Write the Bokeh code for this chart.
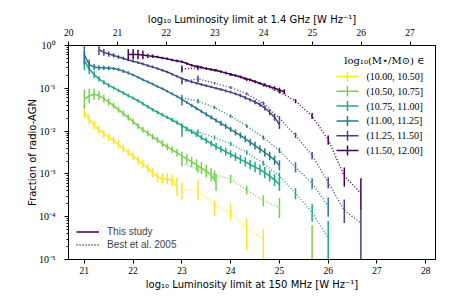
import numpy as np
from bokeh.plotting import figure
from bokeh.models import (Range1d, LinearAxis, FixedTicker, LogTicker, CustomJSTickFormatter,
                          Label, BoxAnnotation, Legend, LegendItem)
from bokeh.embed import file_html
from bokeh.resources import INLINE

# ---------------- data (log10 luminosity at 150 MHz, log10 fraction, errors in dex) -------------
mass_bins = ["(10.00, 10.50]", "(10.50, 10.75]", "(10.75, 11.00]",
             "(11.00, 11.25]", "(11.25, 11.50]", "(11.50, 12.00]"]
colors = ["#fde725", "#7ad151", "#22a884", "#2a788e", "#414487", "#440154"]

# This study (solid)
x_m1 = [21.0, 21.1, 21.2, 21.3, 21.4, 21.5, 21.6, 21.7, 21.8, 21.9, 22.0, 22.1, 22.2, 22.3, 22.4,
        22.5, 22.6, 22.7, 22.8, 22.9]
y_m1 = [-1.55, -1.72, -1.86, -1.97, -2.06, -2.14, -2.22, -2.31, -2.41, -2.50, -2.59, -2.68, -2.77,
        -2.87, -2.97, -3.07, -3.12, -3.12, -3.15, -3.30]
e_m1 = [0.15, 0.12, 0.11, 0.10, 0.10, 0.09, 0.09, 0.09, 0.09, 0.09, 0.09, 0.10, 0.10, 0.10, 0.11,
        0.12, 0.13, 0.13, 0.14, 0.22]

x_m2 = [21.0, 21.1, 21.2, 21.3, 21.4, 21.5, 21.6, 21.7, 21.8, 21.9, 22.0, 22.1, 22.2, 22.3, 22.4,
        22.5, 22.6, 22.7, 22.8, 22.9, 23.0, 23.1, 23.2, 23.3, 23.4, 23.5, 23.6, 23.7]
y_m2 = [-1.25, -1.18, -1.14, -1.17, -1.24, -1.32, -1.41, -1.50, -1.59, -1.68, -1.78, -1.88, -1.97,
        -2.05, -2.13, -2.21, -2.29, -2.37, -2.44, -2.51, -2.58, -2.65, -2.72, -2.79, -2.86, -2.93,
        -3.02, -3.20]
e_m2 = [0.22, 0.17, 0.13, 0.11, 0.09, 0.08, 0.07, 0.07, 0.07, 0.07, 0.07, 0.07, 0.07, 0.07, 0.07,
        0.07, 0.08, 0.08, 0.08, 0.09, 0.10, 0.11, 0.12, 0.13, 0.14, 0.15, 0.16, 0.20]

x_m3 = [21.0, 21.1, 21.2, 21.3, 21.4, 21.5, 21.6, 21.7, 21.8, 21.9, 22.0, 22.1, 22.2, 22.3, 22.4,
        22.5, 22.6, 22.7, 22.8, 22.9, 23.0, 23.1, 23.2, 23.3, 23.4, 23.5, 23.6, 23.7, 23.8, 23.9,
        24.0, 24.1, 24.2, 24.3, 24.4, 24.5, 24.6, 24.7, 24.8, 24.9, 25.0]
y_m3 = [-0.35, -0.55, -0.68, -0.78, -0.86, -0.93, -0.99, -1.05, -1.11, -1.17, -1.23, -1.29, -1.36,
        -1.43, -1.50, -1.56, -1.62, -1.68, -1.74, -1.80, -1.87, -1.94, -2.01, -2.08, -2.15, -2.22,
        -2.29, -2.36, -2.42, -2.48, -2.54, -2.60, -2.66, -2.72, -2.78, -2.84, -2.90, -2.97, -3.05,
        -3.14, -3.25]
e_m3 = [0.22, 0.12, 0.08, 0.06, 0.05, 0.05, 0.04, 0.04, 0.04, 0.04, 0.04, 0.04, 0.04, 0.04, 0.04,
        0.04, 0.04, 0.04, 0.05, 0.05, 0.05, 0.05, 0.06, 0.06, 0.06, 0.07, 0.07, 0.08, 0.08, 0.09,
        0.09, 0.10, 0.10, 0.11, 0.11, 0.12, 0.12, 0.13, 0.13, 0.14, 0.15]

x_m4 = [21.0, 21.1, 21.2, 21.3, 21.4, 21.5, 21.6, 21.7, 21.8, 21.9, 22.0, 22.1, 22.2, 22.3, 22.4,
        22.5, 22.6, 22.7, 22.8, 22.9, 23.0, 23.1, 23.2, 23.3, 23.4, 23.5, 23.6, 23.7, 23.8, 23.9,
        24.0, 24.1, 24.2, 24.3, 24.4, 24.5, 24.6, 24.7, 24.8, 24.9, 25.0]
y_m4 = [-0.22, -0.45, -0.50, -0.52, -0.52, -0.53, -0.54, -0.56, -0.60, -0.64, -0.69, -0.74, -0.80,
        -0.85, -0.90, -0.96, -1.01, -1.07, -1.13, -1.19, -1.26, -1.33, -1.40, -1.47, -1.54, -1.61,
        -1.68, -1.75, -1.82, -1.89, -1.96, -2.03, -2.10, -2.18, -2.26, -2.34, -2.42, -2.50, -2.58,
        -2.68, -2.80]
e_m4 = [0.22, 0.12, 0.07, 0.06, 0.05, 0.05, 0.04, 0.04, 0.04, 0.04, 0.03, 0.03, 0.03, 0.03, 0.03,
        0.03, 0.03, 0.03, 0.03, 0.03, 0.03, 0.03, 0.04, 0.04, 0.04, 0.05, 0.05, 0.05, 0.06, 0.06,
        0.06, 0.07, 0.07, 0.08, 0.08, 0.09, 0.09, 0.10, 0.10, 0.11, 0.12]

x_m5 = [21.3, 21.4, 21.5, 21.6, 21.7, 21.8, 21.9, 22.0, 22.1, 22.2, 22.3, 22.4, 22.5, 22.6, 22.7,
        22.8, 22.9, 23.0, 23.1, 23.2, 23.3, 23.4, 23.5, 23.6, 23.7, 23.8, 23.9, 24.0, 24.1, 24.2,
        24.3, 24.4, 24.5, 24.6, 24.7, 24.8, 24.9, 25.0]
y_m5 = [-0.10, -0.16, -0.20, -0.23, -0.27, -0.30, -0.34, -0.37, -0.40, -0.43, -0.47, -0.50, -0.54,
        -0.58, -0.62, -0.67, -0.72, -0.77, -0.81, -0.85, -0.88, -0.91, -0.94, -0.97, -1.00, -1.03,
        -1.06, -1.09, -1.13, -1.17, -1.22, -1.27, -1.32, -1.38, -1.46, -1.56, -1.68, -1.85]
e_m5 = [0.12, 0.08, 0.06, 0.05, 0.04, 0.04, 0.03, 0.03, 0.03, 0.03, 0.03, 0.03, 0.03, 0.03, 0.03,
        0.03, 0.03, 0.03, 0.03, 0.03, 0.03, 0.03, 0.03, 0.03, 0.03, 0.03, 0.03, 0.03, 0.03, 0.04,
        0.04, 0.04, 0.05, 0.05, 0.06, 0.07, 0.08, 0.10]

x_m6 = [21.9, 22.0, 22.1, 22.2, 22.3, 22.4, 22.5, 22.6, 22.7, 22.8, 22.9, 23.0, 23.1, 23.2, 23.3,
        23.4, 23.5, 23.6, 23.7, 23.8, 23.9, 24.0, 24.1, 24.2, 24.3, 24.4, 24.5, 24.6, 24.7, 24.8,
        24.9, 25.0, 25.1]
y_m6 = [-0.21, -0.21, -0.21, -0.22, -0.24, -0.25, -0.27, -0.29, -0.31, -0.34, -0.36, -0.38, -0.42,
        -0.46, -0.49, -0.51, -0.54, -0.56, -0.58, -0.61, -0.64, -0.67, -0.70, -0.73, -0.77, -0.80,
        -0.84, -0.88, -0.92, -0.96, -1.00, -1.04, -1.08]
e_m6 = [0.12, 0.12, 0.11, 0.10, 0.05, 0.04, 0.03, 0.03, 0.03, 0.03, 0.03, 0.03, 0.03, 0.03, 0.03,
        0.03, 0.03, 0.03, 0.03, 0.03, 0.03, 0.03, 0.03, 0.03, 0.03, 0.03, 0.03, 0.03, 0.04, 0.04,
        0.05, 0.05, 0.06]

# Best et al. 2005 (dotted)
bx_all = [23.0, 23.33, 23.67, 24.0, 24.33, 24.67, 25.0, 25.33, 25.67, 26.0, 26.33, 26.67]
by_b1 = [-3.38, -3.38, -3.73, -3.90, -4.28, -4.52]
bhi_b1 = [0.18, 0.23, 0.11, 0.21, 0.24, 0.24]
blo_b1 = [0.24, 0.24, 0.24, 0.19, 0.51, 1.50]
by_b2 = [-2.75, -2.90, -3.02, -3.12, -3.38, -3.62, -3.78]
bhi_b2 = [0.08, 0.08, 0.10, 0.10, 0.10, 0.12, 0.22]
blo_b2 = [0.08, 0.08, 0.10, 0.10, 0.10, 0.14, 0.25]
by_b3 = [-1.98, -2.02, -2.15, -2.30, -2.50, -2.75, -3.05, -3.45, -3.90, -4.50]
bhi_b3 = [0.15, 0.06, 0.05, 0.05, 0.05, 0.06, 0.08, 0.12, 0.20, 0.40]
blo_b3 = [0.15, 0.06, 0.05, 0.05, 0.05, 0.06, 0.08, 0.14, 0.22, 1.50]
by_b4 = [-1.22, -1.30, -1.45, -1.65, -1.88, -2.15, -2.45, -2.85, -3.22, -3.75]
bhi_b4 = [0.07, 0.05, 0.04, 0.04, 0.04, 0.05, 0.06, 0.12, 0.12, 0.20]
blo_b4 = [0.18, 0.05, 0.04, 0.04, 0.04, 0.05, 0.06, 0.12, 0.14, 0.25]
by_b5 = [-0.85, -0.78, -0.88, -0.98, -1.13, -1.35, -1.70, -2.10, -2.57, -3.20, -3.85, -4.15]
bhi_b5 = [0.06, 0.08, 0.03, 0.03, 0.03, 0.04, 0.05, 0.06, 0.08, 0.12, 0.25, 0.30]
blo_b5 = [0.06, 0.08, 0.03, 0.03, 0.03, 0.04, 0.05, 0.06, 0.09, 0.14, 0.30, 1.50]
by_b6 = [-0.55, -0.52, -0.58, -0.68, -0.80, -0.93, -1.08, -1.30, -1.65, -2.20, -3.05, -3.45]
bhi_b6 = [0.08, 0.06, 0.03, 0.03, 0.03, 0.03, 0.04, 0.05, 0.07, 0.10, 0.20, 0.35]
blo_b6 = [0.08, 0.06, 0.03, 0.03, 0.03, 0.03, 0.04, 0.05, 0.07, 0.12, 0.25, 0.40]
# Best et al. bar for (10.50, 10.75] with no detected value (reaches the bottom)
lim_x_b2 = [25.67]
lim_top_b2 = [-4.20]

top_ticks = [20, 21, 22, 23, 24, 25, 26, 27]
bottom_ticks = [21, 22, 23, 24, 25, 26, 27, 28]
spectral_offset = 0.679   # log10(L150) - log10(L1.4) for alpha = 0.7

solid = [(x_m1, y_m1, e_m1), (x_m2, y_m2, e_m2), (x_m3, y_m3, e_m3),
         (x_m4, y_m4, e_m4), (x_m5, y_m5, e_m5), (x_m6, y_m6, e_m6)]
best = [(by_b1, bhi_b1, blo_b1), (by_b2, bhi_b2, blo_b2), (by_b3, bhi_b3, blo_b3),
        (by_b4, bhi_b4, blo_b4), (by_b5, bhi_b5, blo_b5), (by_b6, bhi_b6, blo_b6)]

# ---------------- figure ----------------
x0, x1 = 20.675, 28.2
p = figure(width=457, height=305, x_range=Range1d(x0, x1), y_range=Range1d(1e-5, 1.0),
           y_axis_type="log", output_backend="svg", toolbar_location=None,
           min_border_left=68, min_border_right=22, min_border_top=45, min_border_bottom=46)
p.grid.visible = False
p.outline_line_color = "black"
p.outline_line_width = 1
p.background_fill_color = "white"

SERIF = "Liberation Serif"
SANS = "Liberation Sans"
LABEL_SANS = "DejaVu Sans"

def style_axis(ax):
    ax.axis_line_color = "black"
    ax.major_tick_line_color = "black"
    ax.minor_tick_line_color = "black"
    ax.major_tick_in = 0
    ax.major_tick_out = 4
    ax.minor_tick_in = 0
    ax.minor_tick_out = 2
    ax.major_label_text_font = SERIF
    ax.major_label_text_font_size = "9.5px"
    ax.major_label_text_color = "black"
    ax.axis_label_text_font = LABEL_SANS
    ax.axis_label_text_font_size = "10px"
    ax.axis_label_text_font_style = "normal"
    ax.axis_label_text_color = "black"

xa = p.xaxis[0]
style_axis(xa)
xa.ticker = FixedTicker(ticks=bottom_ticks)
xa.minor_tick_out = 0
xa.axis_label = "log₁₀ Luminosity limit at 150 MHz [W Hz⁻¹]"
xa.major_label_standoff = 3
xa.axis_label_standoff = 2

p.extra_x_ranges = {"top": Range1d(x0 - spectral_offset, x1 - spectral_offset)}
ta = LinearAxis(x_range_name="top", ticker=FixedTicker(ticks=top_ticks))
style_axis(ta)
ta.minor_tick_out = 0
ta.axis_label = "log₁₀ Luminosity limit at 1.4 GHz [W Hz⁻¹]"
ta.major_label_standoff = 6
ta.axis_label_standoff = 1
p.add_layout(ta, "above")

ya = p.yaxis[0]
style_axis(ya)
ya.major_label_text_font_size = "10px"
ya.ticker = LogTicker(mantissas=[1], num_minor_ticks=10, desired_num_ticks=6)
ya.formatter = CustomJSTickFormatter(code="""
const e = Math.round(Math.log10(tick));
const sup = {"-":"\u207b","0":"\u2070","1":"\u00b9","2":"\u00b2","3":"\u00b3","4":"\u2074",
             "5":"\u2075","6":"\u2076","7":"\u2077","8":"\u2078","9":"\u2079"};
return "10" + String(e).split("").map(c => sup[c]).join("");
""")
ya.axis_label = "Fraction of radio-AGN"
ya.major_label_standoff = 9
ya.axis_label_standoff = -2

# ---------------- curves ----------------
for i in range(6):
    c = colors[i]
    xs, ys, es = solid[i]
    ys = np.array(ys); es = np.array(es)
    p.line(xs, 10 ** ys, line_color=c, line_width=1.5)
    p.segment(xs, 10 ** (ys - es), xs, 10 ** (ys + es), line_color=c, line_width=1.5)

for i in range(6):
    c = colors[i]
    by, bhi, blo = best[i]
    by = np.array(by); bhi = np.array(bhi); blo = np.array(blo)
    bx = bx_all[:len(by)]
    p.line(bx, 10 ** by, line_color=c, line_width=1.4, line_dash="1 2")
    p.segment(bx, 10 ** (by - blo), bx, 10 ** (by + bhi), line_color=c, line_width=1.5)

p.segment(lim_x_b2, [1e-7], lim_x_b2, list(10 ** np.array(lim_top_b2)), line_color=colors[1],
          line_width=1.5)

# ---------------- mass-bin legend (drawn in screen units of the frame) ----------------
row_y = [183, 168.2, 153.4, 138.6, 123.8, 109]
p.add_layout(Label(x=356, y=199, x_units="screen", y_units="screen",
                   text="log₁₀(M⋆/M⊙) ∈", text_font="DejaVu Serif", text_font_size="10px",
                   text_align="right", text_baseline="middle", text_color="black"))
for i in range(6):
    sy = row_y[i]
    c = colors[i]
    p.add_layout(BoxAnnotation(left=268, right=290, bottom=sy - 0.75, top=sy + 0.75,
                               left_units="screen", right_units="screen",
                               bottom_units="screen", top_units="screen",
                               fill_color=c, fill_alpha=1, line_alpha=0))
    p.add_layout(BoxAnnotation(left=278.25, right=279.75, bottom=sy - 5, top=sy + 5,
                               left_units="screen", right_units="screen",
                               bottom_units="screen", top_units="screen",
                               fill_color=c, fill_alpha=1, line_alpha=0))
    p.add_layout(Label(x=298, y=sy, x_units="screen", y_units="screen", text=mass_bins[i],
                       text_font=SERIF, text_font_size="10px", text_baseline="middle",
                       text_color="black"))

# ---------------- data-set legend ----------------
r_solid = p.line([10.0, 10.5], [0.5, 0.5], line_color=colors[5], line_width=1.5)
r_dot = p.line([10.0, 10.5], [0.5, 0.5], line_color=colors[5], line_width=1.4, line_dash="1 2")
leg = Legend(items=[LegendItem(label="This study", renderers=[r_solid]),
                    LegendItem(label="Best et al. 2005", renderers=[r_dot])],
             location="bottom_left", glyph_width=23, glyph_height=13, label_height=13,
             spacing=-1, label_standoff=8, padding=5, margin=3,
             border_line_alpha=0, background_fill_alpha=0,
             label_text_font=SANS, label_text_font_size="10px")
p.add_layout(leg)

open("out.html", "w").write(file_html(p, INLINE))
